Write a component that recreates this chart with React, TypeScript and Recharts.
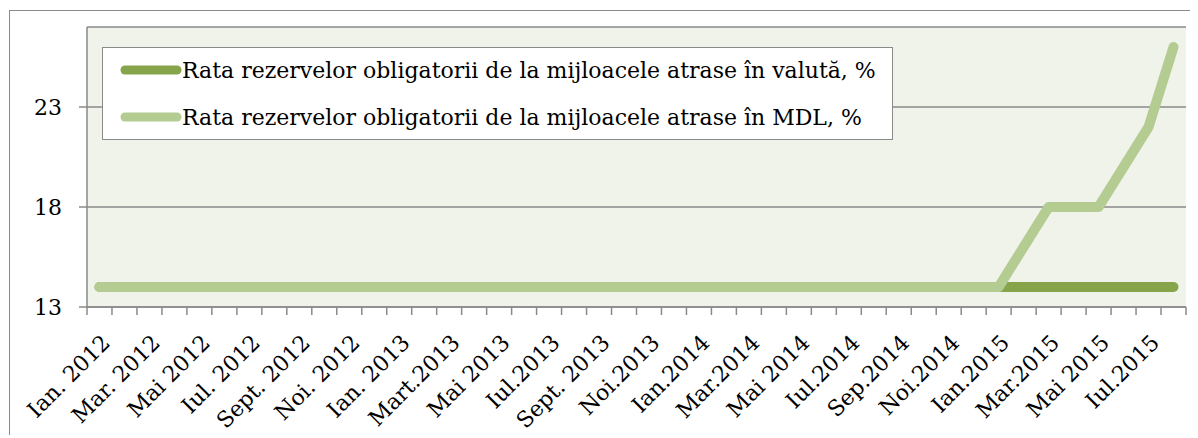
import { LineChart, Line, XAxis, YAxis, CartesianGrid } from "recharts";

const months = [
  "2012-01", "2012-02", "2012-03", "2012-04", "2012-05", "2012-06",
  "2012-07", "2012-08", "2012-09", "2012-10", "2012-11", "2012-12",
  "2013-01", "2013-02", "2013-03", "2013-04", "2013-05", "2013-06",
  "2013-07", "2013-08", "2013-09", "2013-10", "2013-11", "2013-12",
  "2014-01", "2014-02", "2014-03", "2014-04", "2014-05", "2014-06",
  "2014-07", "2014-08", "2014-09", "2014-10", "2014-11", "2014-12",
  "2015-01", "2015-02", "2015-03", "2015-04", "2015-05", "2015-06",
  "2015-07", "2015-08",
];

// labels shown under every second month
const tickLabels = [
  "Ian. 2012", "Mar. 2012", "Mai 2012", "Iul. 2012", "Sept. 2012", "Noi. 2012",
  "Ian. 2013", "Mart.2013", "Mai 2013", "Iul.2013", "Sept. 2013", "Noi.2013",
  "Ian.2014", "Mar.2014", "Mai 2014", "Iul.2014", "Sep.2014", "Noi.2014",
  "Ian.2015", "Mar.2015", "Mai 2015", "Iul.2015",
];

const valuta = [
  14, 14, 14, 14, 14, 14, 14, 14, 14, 14, 14, 14,
  14, 14, 14, 14, 14, 14, 14, 14, 14, 14, 14, 14,
  14, 14, 14, 14, 14, 14, 14, 14, 14, 14, 14, 14,
  14, 14, 14, 14, 14, 14, 14, 14,
];

const mdl = [
  14, 14, 14, 14, 14, 14, 14, 14, 14, 14, 14, 14,
  14, 14, 14, 14, 14, 14, 14, 14, 14, 14, 14, 14,
  14, 14, 14, 14, 14, 14, 14, 14, 14, 14, 14, 14,
  14, 16, 18, 18, 18, 20, 22, 26,
];

const yTicks = [13, 18, 23];

const seriesNames = [
  "Rata rezervelor obligatorii de la mijloacele atrase în valută, %",
  "Rata rezervelor obligatorii de la mijloacele atrase în MDL, %",
];

const DARK = "#86a44a";
const LIGHT = "#b4cb91";
const GRID = "#8a8a8a";
const FONT = "'DejaVu Serif', serif";

const CHART_W = 1180;
const CHART_H = 426;
const Y_W = 77;
const M_RIGHT = 4;
const HALF_BAND = (CHART_W - Y_W - M_RIGHT) / months.length / 2;

const data = months.map((m, i) => ({ month: m, valuta: valuta[i], mdl: mdl[i] }));

function MonthTick(props: any) {
  const { x, y, index } = props;
  const lx = x + 12;
  const ly = y + 29;
  return (
    <g>
      <line x1={x - HALF_BAND} y1={y - 8} x2={x - HALF_BAND} y2={y} stroke={GRID} strokeWidth={1.5} />
      {index === months.length - 1 && (
        <line x1={x + HALF_BAND} y1={y - 8} x2={x + HALF_BAND} y2={y} stroke={GRID} strokeWidth={1.5} />
      )}
      {index % 2 === 0 && (
        <text
          x={lx}
          y={ly}
          textAnchor="end"
          transform={`rotate(-45, ${lx}, ${ly})`}
          fontSize={22}
          fontFamily={FONT}
          fill="#000"
        >
          {tickLabels[index / 2]}
        </text>
      )}
    </g>
  );
}

function LegendBox() {
  const colors = [DARK, LIGHT];
  const rows = [22, 69];
  return (
    <div
      style={{
        position: "absolute",
        left: 92,
        top: 36,
        width: 791,
        height: 93,
        boxSizing: "border-box",
        border: `1px solid ${GRID}`,
        background: "#fff",
      }}
    >
      {seriesNames.map((name, i) => (
        <div
          key={name}
          style={{
            position: "absolute",
            left: 17,
            top: rows[i] - 15,
            height: 30,
            display: "flex",
            alignItems: "center",
            whiteSpace: "nowrap",
            fontFamily: FONT,
            fontSize: 22,
            color: "#000",
          }}
        >
          <svg width={62} height={12} style={{ display: "block" }}>
            <line x1={5} y1={6} x2={57} y2={6} stroke={colors[i]} strokeWidth={9} strokeLinecap="round" />
          </svg>
          <span>{name}</span>
        </div>
      ))}
    </div>
  );
}

export default function App() {
  return (
    <div
      style={{
        position: "relative",
        top: 2,
        left: 1,
        width: 1188,
        height: CHART_H,
        borderTop: `1px solid ${GRID}`,
        borderLeft: `1px solid ${GRID}`,
      }}
    >
      <LineChart
        width={CHART_W}
        height={CHART_H}
        data={data}
        margin={{ top: 16, right: M_RIGHT, left: 0, bottom: CHART_H - 296 - 110 }}
      >
        <CartesianGrid horizontal vertical={false} fill="#eff3e9" stroke={GRID} strokeWidth={1.5} />
        <XAxis
          dataKey="month"
          scale="band"
          interval={0}
          height={110}
          tickSize={8}
          tickMargin={0}
          tickLine={false}
          axisLine={{ stroke: GRID, strokeWidth: 1.5 }}
          tick={<MonthTick />}
        />
        <YAxis
          type="number"
          domain={[13, 27]}
          ticks={yTicks}
          width={Y_W}
          tickSize={8}
          tickMargin={17}
          axisLine={{ stroke: GRID, strokeWidth: 1.5 }}
          tickLine={{ stroke: GRID, strokeWidth: 1.5 }}
          tick={{ fontSize: 22, fontFamily: FONT, fill: "#000" }}
        />
        <Line
          dataKey="valuta"
          type="linear"
          stroke={DARK}
          strokeWidth={10}
          strokeLinecap="round"
          strokeLinejoin="round"
          dot={false}
          activeDot={false}
          isAnimationActive={false}
        />
        <Line
          dataKey="mdl"
          type="linear"
          stroke={LIGHT}
          strokeWidth={10}
          strokeLinecap="round"
          strokeLinejoin="round"
          dot={false}
          activeDot={false}
          isAnimationActive={false}
        />
      </LineChart>
      <LegendBox />
    </div>
  );
}
